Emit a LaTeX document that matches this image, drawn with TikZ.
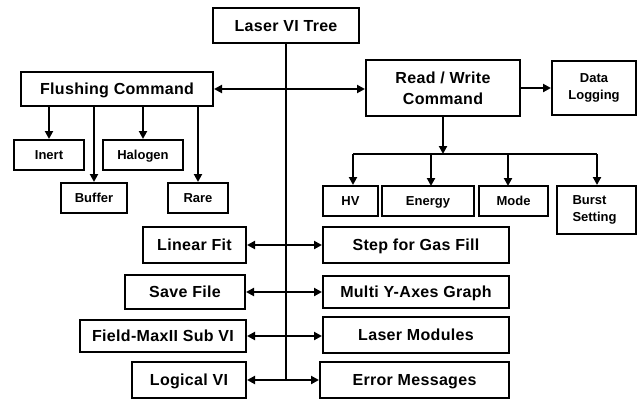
\documentclass[tikz,border=0pt]{standalone}
\usepackage{fontspec}
\setmainfont{Liberation Sans}
\newfontfamily\bigfont[LetterSpace=2]{Liberation Sans}
\usetikzlibrary{arrows.meta}
\begin{document}
\begin{tikzpicture}[x=1pt,y=-1pt,
  >={Triangle[length=8pt,width=8pt]},
  bx/.style={draw, line width=2pt, inner sep=0pt, align=center, text height=11.5pt, text depth=0pt, font=\bigfont\bfseries\fontsize{16}{21}\selectfont},
  bx2/.style={draw, line width=2pt, inner sep=0pt, align=center, font=\bigfont\bfseries\fontsize{16}{21}\selectfont},
  sbx/.style={draw, line width=2pt, inner sep=0pt, align=center, text height=9.3pt, text depth=0pt, font=\bfseries\fontsize{13}{17}\selectfont},
  sbx2/.style={draw, line width=2pt, inner sep=0pt, align=center, font=\bfseries\fontsize{13}{17}\selectfont},
  conn/.style={line width=2pt}]
\useasboundingbox (0,0) rectangle (639,400);
% main nodes
\node[bx, minimum width=146pt, minimum height=35pt] (tree) at (286,25.5) {Laser VI Tree};
\node[bx, minimum width=192pt, minimum height=34pt] (flush) at (117,89) {Flushing Command};
\node[bx2, minimum width=154pt, minimum height=56pt] (rw) at (443,88) {Read / Write\\Command};
\node[sbx2, minimum width=84pt, minimum height=54pt] (data) at (594,88) {Data\\Logging};
% flushing children
\node[sbx, minimum width=70pt, minimum height=30pt] (inert) at (49,155) {Inert};
\node[sbx, minimum width=80pt, minimum height=30pt] (halogen) at (143,155) {Halogen};
\node[sbx, minimum width=66pt, minimum height=30pt] (buffer) at (94,198) {Buffer};
\node[sbx, minimum width=60pt, minimum height=30pt] (rare) at (198,198) {Rare};
% read/write children
\node[sbx, minimum width=55pt, minimum height=30pt] (hv) at (350.5,201) {HV};
\node[sbx, minimum width=92pt, minimum height=30pt] (energy) at (428,201) {Energy};
\node[sbx, minimum width=69pt, minimum height=30pt] (mode) at (513.5,201) {Mode};
\node[sbx2, minimum width=79pt, minimum height=48pt, align=left, text width=48pt] (burst) at (596.5,210) {Burst\\Setting};
% lower rows
\node[bx, minimum width=103pt, minimum height=36pt] (linear) at (194.5,245) {Linear Fit};
\node[bx, minimum width=186pt, minimum height=36pt] (step) at (416,245) {Step for Gas Fill};
\node[bx, minimum width=120pt, minimum height=34pt] (save) at (185,292) {Save File};
\node[bx, minimum width=186pt, minimum height=32pt] (multi) at (416,292) {Multi Y-Axes Graph};
\node[bx, minimum width=166pt, minimum height=32pt] (field) at (163,336) {Field-MaxII Sub VI};
\node[bx, minimum width=186pt, minimum height=36pt] (lmod) at (416,335) {Laser Modules};
\node[bx, minimum width=114pt, minimum height=36pt] (logical) at (189,380) {Logical VI};
\node[bx, minimum width=189pt, minimum height=36pt] (error) at (414.5,380) {Error Messages};
% trunk
\coordinate (trunkend) at (tree.south |- logical.east);
\draw[conn] (tree.south) -- (trunkend);
% top connections
\draw[conn,<->] (flush.east) -- (flush.east -| rw.west);
\draw[conn,->] (rw.east |- data.west) -- (data.west);
% flushing children
\foreach \c in {inert,halogen,buffer,rare}
  \draw[conn,->] (\c.north |- flush.south) -- (\c.north);
% read/write bus
\coordinate (bus) at (443,154);
\draw[conn,->] (rw.south) -- (bus);
\coordinate (busL) at (353,154);
\coordinate (busR) at (597,154);
\draw[conn] (busL) -- (busR);
\draw[conn,->] (busL) -- (busL |- hv.north);
\draw[conn,->] (431,154) -- (431,186);
\draw[conn,->] (508,154) -- (508,186);
\draw[conn,->] (busR) -- (busR |- burst.north);
% lower double arrows
\draw[conn,<->] (linear.east) -- (linear.east -| step.west);
\draw[conn,<->] (save.east) -- (save.east -| multi.west);
\draw[conn,<->] (field.east) -- (field.east -| lmod.west);
\draw[conn,<->] (logical.east) -- (logical.east -| error.west);
\end{tikzpicture}
\end{document}
